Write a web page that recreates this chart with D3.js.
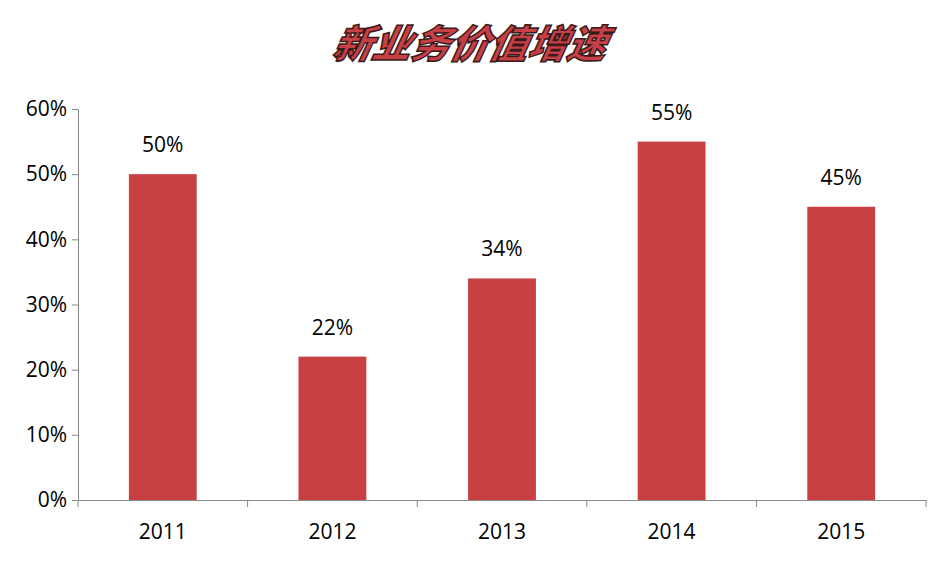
<!DOCTYPE html>
<html><head><meta charset="utf-8">
<script src="https://cdn.jsdelivr.net/npm/d3@7"></script>
<style>body{margin:0;background:#fff}</style></head>
<body><svg id="c" width="941" height="561"></svg>
<script>
const categories=["2011","2012","2013","2014","2015"];
const values=[50,22,34,55,45];
const yTicks=[0,10,20,30,40,50,60];
const title="新业务价值增速";
const svg=d3.select("#c");
const m={l:78,r:926,t:109,b:500};
const x=d3.scaleBand().domain(categories).range([m.l,m.r]).paddingInner(0.6).paddingOuter(0.3);
const y=d3.scaleLinear().domain([0,60]).range([m.b,m.t]);
svg.append("text").attr("x",470).attr("y",58).attr("text-anchor","middle")
 .attr("font-family","Noto Sans CJK SC").attr("font-weight","900").attr("font-size",39)
 .attr("font-style","italic").attr("transform","skewX(-12) translate(10,0)")
 .attr("fill","#C84045").attr("stroke","#3a1a1a").attr("stroke-width",1.5).text(title);
const ya=svg.append("g").attr("transform",`translate(${m.l},0)`)
 .call(d3.axisLeft(y).tickValues(yTicks).tickFormat(d=>d+"%").tickSize(6).tickSizeOuter(0));
ya.selectAll("path,line").attr("stroke","#888");
ya.selectAll("text").attr("font-family","Open Sans").attr("font-size",21).attr("fill","#000").attr("dx",-2);
const xa=svg.append("g").attr("transform",`translate(0,${m.b})`)
 .call(d3.axisBottom(x).tickSize(0).tickSizeOuter(0));
xa.selectAll("path").attr("stroke","#888");
xa.selectAll("text").attr("font-family","Open Sans").attr("font-size",21).attr("fill","#000").attr("dy",36);
svg.append("g").selectAll("line").data(d3.range(categories.length+1)).join("line")
 .attr("x1",i=>m.l+i*(m.r-m.l)/categories.length).attr("x2",i=>m.l+i*(m.r-m.l)/categories.length)
 .attr("y1",m.b).attr("y2",m.b+7).attr("stroke","#888");
svg.append("g").selectAll("rect").data(values).join("rect")
 .attr("x",(d,i)=>x(categories[i])).attr("width",x.bandwidth())
 .attr("y",d=>y(d)).attr("height",d=>m.b-y(d)).attr("fill","#C94042");
svg.append("g").selectAll("text").data(values).join("text")
 .attr("x",(d,i)=>x(categories[i])+x.bandwidth()/2).attr("y",d=>y(d)-22)
 .attr("text-anchor","middle").attr("font-family","Open Sans").attr("font-size",21).text(d=>d+"%");
</script></body></html>
